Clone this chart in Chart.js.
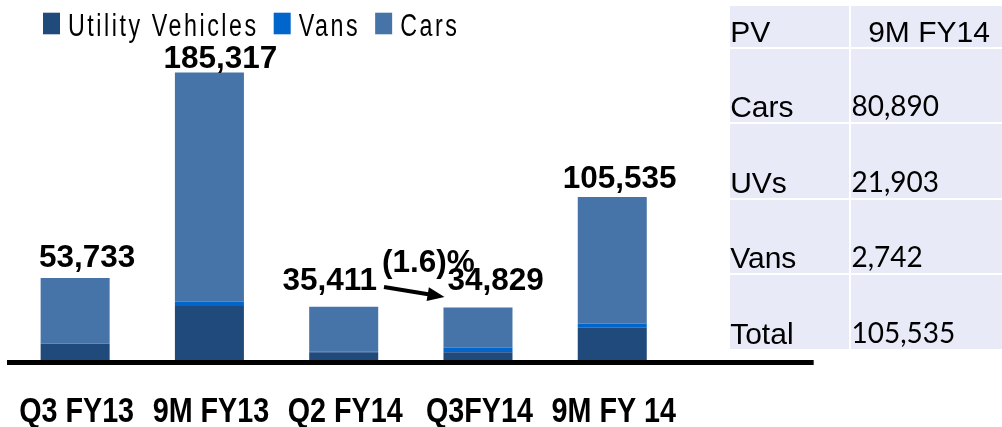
<!DOCTYPE html>
<html>
<head>
<meta charset="utf-8">
<script src="https://cdn.jsdelivr.net/npm/chart.js@4.4.1/dist/chart.umd.min.js"></script>
<style>
  html, body { margin:0; padding:0; background:#ffffff; width:1002px; height:427px; overflow:hidden; }
  #wrap { position:absolute; left:0; top:0; width:820px; height:427px; }
  #tbl { position:absolute; left:728.2px; top:4.2px; border-collapse:separate; border-spacing:2.5px;
         table-layout:fixed; width:281.5px; }
  #tbl td { background:#E8EBF7; padding:0; vertical-align:bottom; color:#000; white-space:nowrap; overflow:hidden;
            font-family:"Liberation Sans", Arial, sans-serif; font-size:30px; line-height:1; }
  #tbl td.c1 { width:119.3px; }
  #tbl td.c2 { width:155px; }
  #tbl td.num { font-family:Lato, "Open Sans", sans-serif; font-size:28px; padding-bottom:3px; }
  #tbl td.hd2 { text-align:center; padding-right:4px; }
</style>
</head>
<body>
<div id="wrap"><canvas id="c" width="820" height="427"></canvas></div>
<table id="tbl"></table>
<script>
// ---- data ----
const categories = ['Q3 FY13', '9M FY13', 'Q2 FY14', 'Q3FY14', '9M FY 14'];
const seriesNames = ['Utility Vehicles', 'Vans', 'Cars'];
const utilityVehicles = [11500, 35840, 6200, 6200, 21903];
const vans = [400, 2750, 300, 2900, 2742];
const cars = [41833, 146727, 28911, 25729, 80890];

const tableHeader = ['PV', '9M FY14'];
const tableLabels = ['Cars', 'UVs', 'Vans', 'Total'];
const tableValues = [80890, 21903, 2742, 105535];

// ---- styling ----
const colors = ['#214A7C', '#0066CC', '#4674A8'];
const rowHeights = [41, 73, 74, 73, 74];

// ---- table ----
const tbl = document.getElementById('tbl');
(function buildTable(){
  const hr = document.createElement('tr');
  hr.style.height = rowHeights[0] + 'px';
  const h1 = document.createElement('td'); h1.className = 'c1'; h1.textContent = tableHeader[0];
  const h2 = document.createElement('td'); h2.className = 'c2 hd2'; h2.textContent = tableHeader[1];
  hr.appendChild(h1); hr.appendChild(h2); tbl.appendChild(hr);
  tableLabels.forEach((lab, i) => {
    const tr = document.createElement('tr');
    tr.style.height = rowHeights[i + 1] + 'px';
    const a = document.createElement('td'); a.className = 'c1'; a.textContent = lab;
    const b = document.createElement('td'); b.className = 'c2 num'; b.textContent = tableValues[i].toLocaleString('en-US');
    tr.appendChild(a); tr.appendChild(b); tbl.appendChild(tr);
  });
})();

// draw text compressed horizontally (condensed look)
function condensedText(ctx, txt, x, y, sx, align) {
  const w = ctx.measureText(txt).width * sx;
  let left = x;
  if (align === 'center') left = x - w / 2;
  ctx.save();
  ctx.translate(left, y);
  ctx.scale(sx, 1);
  ctx.textAlign = 'left';
  ctx.fillText(txt, 0, 0);
  ctx.restore();
  return w;
}

// ---- plugins ----
const baseLine = {
  id: 'baseLine',
  afterDatasetsDraw(chart) {
    const { ctx, chartArea, scales: { x, y } } = chart;
    const yy = y.getPixelForValue(0) + 0.5;
    ctx.save();
    ctx.strokeStyle = '#000';
    ctx.lineWidth = 5;
    ctx.beginPath();
    ctx.moveTo(chartArea.left - 1, yy);
    ctx.lineTo(chartArea.right + x.width / categories.length, yy);
    ctx.stroke();
    ctx.restore();
  }
};

const categoryLabels = {
  id: 'categoryLabels',
  afterDraw(chart, args, opts) {
    const { ctx, chartArea, scales: { x } } = chart;
    ctx.save();
    ctx.font = opts.font;
    ctx.fillStyle = '#000';
    ctx.textBaseline = 'alphabetic';
    chart.data.labels.forEach((lab, i) => {
      condensedText(ctx, lab, x.getPixelForValue(i) + opts.dx, chartArea.bottom + opts.offset, opts.scaleX, 'center');
    });
    ctx.restore();
  }
};

const valueLabels = {
  id: 'valueLabels',
  afterDatasetsDraw(chart, args, opts) {
    const { ctx, scales: { x, y } } = chart;
    const n = chart.data.labels.length;
    ctx.save();
    ctx.font = opts.font;
    ctx.fillStyle = '#000';
    ctx.textBaseline = 'alphabetic';
    const pos = [];
    for (let i = 0; i < n; i++) {
      const total = chart.data.datasets.reduce((s, d) => s + d.data[i], 0);
      const txt = total.toLocaleString('en-US');
      const cx = x.getPixelForValue(i) + opts.dx[i];
      const by = y.getPixelForValue(total) - opts.dy[i];
      const w = condensedText(ctx, txt, cx, by, opts.scaleX, 'center');
      pos.push({ l: cx - w / 2, r: cx + w / 2, y: by, total });
    }
    const a = pos[opts.from], b = pos[opts.to];
    const pct = (b.total - a.total) / a.total * 100;
    const pctTxt = pct < 0 ? '(' + Math.abs(pct).toFixed(1) + ')%' : pct.toFixed(1) + '%';
    const mx = (x.getPixelForValue(opts.from) + x.getPixelForValue(opts.to)) / 2 + opts.pctDx;
    condensedText(ctx, pctTxt, mx, a.y - opts.pctDy, opts.scaleX, 'center');
    // arrow
    const x1 = a.r + 7, y1 = a.y - 3, x2 = b.l - 3, y2 = a.y + 7;
    const ang = Math.atan2(y2 - y1, x2 - x1);
    const hl = 17, hw = 7;
    const bx = x2 - hl * Math.cos(ang), byy = y2 - hl * Math.sin(ang);
    ctx.strokeStyle = '#000';
    ctx.lineWidth = 4;
    ctx.beginPath();
    ctx.moveTo(x1, y1);
    ctx.lineTo(bx + 2 * Math.cos(ang), byy + 2 * Math.sin(ang));
    ctx.stroke();
    ctx.beginPath();
    ctx.moveTo(x2, y2);
    ctx.lineTo(bx - hw * Math.sin(ang), byy + hw * Math.cos(ang));
    ctx.lineTo(bx + hw * Math.sin(ang), byy - hw * Math.cos(ang));
    ctx.closePath();
    ctx.fill();
    ctx.restore();
  }
};

const customLegend = {
  id: 'customLegend',
  afterDraw(chart, args, opts) {
    const ctx = chart.ctx;
    ctx.save();
    ctx.font = opts.font;
    try { ctx.letterSpacing = opts.letterSpacing; } catch (e) {}
    ctx.textBaseline = 'alphabetic';
    let xx = opts.x;
    chart.data.datasets.forEach(ds => {
      ctx.fillStyle = ds.backgroundColor;
      ctx.fillRect(xx, opts.y, opts.boxW, opts.boxH);
      const tx = xx + opts.boxW + opts.gap;
      ctx.fillStyle = '#000';
      const w = condensedText(ctx, ds.label, tx, opts.baseline, opts.scaleX, 'left');
      xx = tx + w + opts.itemGap;
    });
    ctx.restore();
  }
};

// ---- chart ----
new Chart(document.getElementById('c'), {
  type: 'bar',
  data: {
    labels: categories,
    datasets: [
      { label: seriesNames[0], data: utilityVehicles, backgroundColor: colors[0] },
      { label: seriesNames[1], data: vans, backgroundColor: colors[1] },
      { label: seriesNames[2], data: cars, backgroundColor: colors[2] }
    ]
  },
  options: {
    responsive: false,
    animation: false,
    devicePixelRatio: 1,
    layout: { padding: { left: 8, right: 140.6, top: 49.5, bottom: 65 } },
    datasets: { bar: { barPercentage: 0.514, categoryPercentage: 1.0, borderWidth: 0 } },
    scales: {
      x: { stacked: true, display: false },
      y: { stacked: true, display: false, min: 0, max: 200000 }
    },
    plugins: {
      legend: { display: false },
      tooltip: { enabled: false },
      categoryLabels: { font: 'bold 35px "Liberation Sans", Arial, sans-serif', scaleX: 0.82, offset: 60, dx: 1.5 },
      valueLabels: { font: 'bold 31.5px "Liberation Sans", Arial, sans-serif', scaleX: 1.0,
                     dx: [12, 11, -14, 17.7, 7.3], dy: [11, 4.4, 16.7, 17.6, 9], from: 2, to: 3, pctDx: 17.5, pctDy: 18 },
      customLegend: { x: 43, y: 12.7, boxW: 17, boxH: 21.6, gap: 8, itemGap: 15, baseline: 35.5, scaleX: 0.75,
                      font: '31px "Liberation Sans", Arial, sans-serif', letterSpacing: '3.4px' }
    }
  },
  plugins: [baseLine, valueLabels, categoryLabels, customLegend]
});
</script>
</body>
</html>
